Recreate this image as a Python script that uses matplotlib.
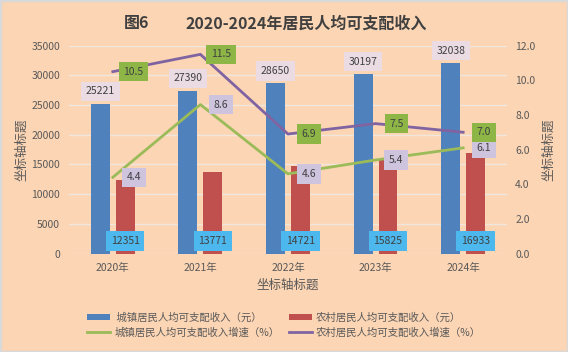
import matplotlib
matplotlib.use("Agg")
import matplotlib.pyplot as plt
import numpy as np
from matplotlib.patches import Rectangle

plt.rcParams["font.family"] = ["Noto Sans CJK SC", "DejaVu Sans"]

# --- Données ---
years = ["2020年", "2021年", "2022年", "2023年", "2024年"]
urban_income = [25221, 27390, 28650, 30197, 32038]
rural_income = [12351, 13771, 14721, 15825, 16933]
urban_growth = [4.4, 8.6, 4.6, 5.4, 6.1]
rural_growth = [10.5, 11.5, 6.9, 7.5, 7.0]

label_urban = " 城镇居民人均可支配收入（元）"
label_rural = "农村居民人均可支配收入（元）"
label_urban_g = "城镇居民人均可支配收入增速（%）"
label_rural_g = "农村居民人均可支配收入增速（%）"

bg = "#FCD5B4"
grid_c = "#EFE6DE"
txt_c = "#595959"
blue, red = "#4F81BD", "#C0504D"
green, purple = "#9BBB59", "#8064A2"

# --- Figure ---
fig = plt.figure(figsize=(5.68, 3.52), dpi=100, facecolor=bg)
fig.patches.append(Rectangle((0, 0), 1, 1, transform=fig.transFigure,
                             fill=False, edgecolor="#D9D9D9", linewidth=2.5))
ax = fig.add_axes([0.1215, 0.2798, 0.771, 0.5904])
ax.set_facecolor(bg)
ax2 = ax.twinx()

x = np.arange(len(years))
w = 0.216
off = 0.142
b1 = ax.bar(x - off, urban_income, width=w, color=blue, label=label_urban, zorder=2)
b2 = ax.bar(x + off, rural_income, width=w, color=red, label=label_rural, zorder=2)

l1, = ax2.plot(x, urban_growth, color=green, lw=2, label=label_urban_g)
l2, = ax2.plot(x, rural_growth, color=purple, lw=2, label=label_rural_g)

ax.set_xlim(-0.5, len(years) - 0.5)
ax.set_ylim(0, 35000)
ax.set_yticks(range(0, 35001, 5000))
ax2.set_ylim(0, 12)
ax2.set_yticks(np.arange(0, 12.1, 2))
ax2.set_yticklabels([f"{v:.1f}" for v in np.arange(0, 12.1, 2)])
ax.set_xticks(x)
ax.set_xticklabels(years)
ax.grid(axis="y", color=grid_c, lw=1, zorder=0)
ax.set_axisbelow(True)

for a in (ax, ax2):
    for s in a.spines.values():
        s.set_visible(False)
    a.tick_params(length=0, labelsize=7.5, colors=txt_c)
ax.tick_params(axis="y", pad=6.5)
ax2.tick_params(axis="y", pad=6)
ax.tick_params(axis="x", pad=7)

ax.set_xlabel("坐标轴标题", fontsize=9, color=txt_c)
ax.set_ylabel("坐标轴标题", fontsize=9, color=txt_c)
ax2.set_ylabel("坐标轴标题", fontsize=9, color=txt_c, rotation=90)
ax.xaxis.set_label_coords(0.5, -0.123)
ax.yaxis.set_label_coords(-0.094, 0.50)
ax2.yaxis.set_label_coords(1.080, 0.50)

# --- Étiquettes ---
def box(fc):
    return dict(boxstyle="square,pad=0.45", fc=fc, ec="none")

for xi, v in zip(x, urban_income):
    ax.annotate(str(v), (xi - off, v), xytext=(0, 9), textcoords="offset points",
                ha="center", va="center", fontsize=7.5, color="#404040",
                bbox=box("#EBDCE3"), zorder=5)
for xi, v in zip(x, rural_income):
    ax.annotate(str(v), (xi + off, 0), xytext=(0, 9), textcoords="offset points",
                ha="center", va="center", fontsize=7.5, color="#404040",
                bbox=box("#4DB8EE"), zorder=5)
for xi, v in zip(x, urban_growth):
    ax2.annotate(f"{v:.1f}", (xi, v), xytext=(15, 0), textcoords="offset points",
                 ha="center", va="center", fontsize=7.5, color="#404040",
                 bbox=box("#CEC4DD"), zorder=5)
for xi, v in zip(x, rural_growth):
    ax2.annotate(f"{v:.1f}", (xi, v), xytext=(15, 0), textcoords="offset points",
                 ha="center", va="center", fontsize=7.5, color="#404040",
                 bbox=box("#8DB646"), zorder=5)

# --- Titre ---
fig.text(0.241, 0.934, "图6", fontsize=11.5, fontweight="bold", color="#404040",
         ha="center", va="center")
fig.text(0.539, 0.934, "2020-2024年居民人均可支配收入", fontsize=11.5,
         fontweight="bold", color="#404040", ha="center", va="center")

# --- Légende (rangée 1 : barres, rangée 2 : courbes) ---
fig.legend([b1, l1, b2, l2], [label_urban, label_urban_g, label_rural, label_rural_g],
           ncol=2, loc="center", bbox_to_anchor=(0.5, 0.077), frameon=False,
           fontsize=7.5, labelcolor=txt_c, handlelength=2.2, handleheight=0.6,
           handletextpad=0.4, columnspacing=0.9, labelspacing=0.45)

fig.savefig("out.png", dpi=100, facecolor=bg)
